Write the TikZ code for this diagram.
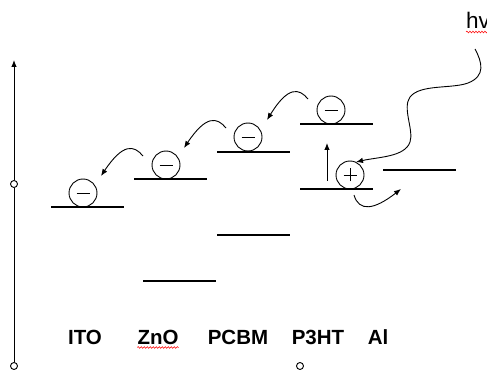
\documentclass[tikz,border=0pt]{standalone}
\usepackage{fontspec}
\setmainfont{Liberation Sans}
\usetikzlibrary{arrows.meta,decorations.pathmorphing}
\begin{document}
\begin{tikzpicture}[x=1pt,y=-1pt,
  level/.style={line width=2.9pt},
  carrier/.style={circle,draw,line width=0.9pt,minimum size=28pt,inner sep=0pt},
  thin/.style={line width=0.9pt},
  hop/.style={line width=0.9pt,-{Latex[length=7pt,width=5.5pt]}},
  material/.style={font=\fontsize{20.5}{24}\selectfont\bfseries,anchor=base,inner sep=0pt},
  terminal/.style={circle,draw,fill=white,line width=0.9pt,minimum size=7pt,inner sep=0pt},
  squiggle/.style={red,line width=0.5pt,decorate,decoration={snake,amplitude=0.9pt,segment length=3pt}}
]
\useasboundingbox (0,0) rectangle (487,371);

% energy axis
\node[terminal] (a0) at (14,366) {};
\node[terminal] (a1) at (14,184) {};
\node[terminal] (a2) at (300,366) {};
\coordinate (atop) at (14,60);
\draw[thin] (a0) -- (a1);
\draw[hop] (a1) -- (atop);

% energy levels
\draw[level] (51,207) -- (124,207);   % ITO
\draw[level] (134,179) -- (207,179);  % ZnO conduction band
\draw[level] (143,281) -- (216,281);  % ZnO valence band
\draw[level] (217,152) -- (290,152);  % PCBM LUMO
\draw[level] (217,235) -- (290,235);  % PCBM HOMO
\draw[level] (300,124) -- (373,124);  % P3HT LUMO
\draw[level] (300,189) -- (373,189);  % P3HT HOMO
\draw[level] (383,170) -- (456,170);  % Al

% charge carriers
\node[carrier] (e1) at (83,193) {};
\node[carrier] (e2) at (166,165) {};
\node[carrier] (e3) at (248,137) {};
\node[carrier] (e4) at (331,110) {};
\node[carrier] (h1) at (350,175) {};
\foreach \c in {e1,e2,e3,e4,h1}
  \draw[thin] ([xshift=-6.5pt]\c.center) -- ([xshift=6.5pt]\c.center);
\draw[thin] ([yshift=-6.5pt]h1.center) -- ([yshift=6.5pt]h1.center);

% electron transfer steps
\coordinate (s4) at (308,99);  \coordinate (t4) at (267,120);
\coordinate (s3) at (226,128); \coordinate (t3) at (184,148);
\coordinate (s2) at (143,156); \coordinate (t2) at (101,176);
\draw[hop] (s4) .. controls (299,88) and (288,86) .. (t4);
\draw[hop] (s3) .. controls (217,117) and (206,115) .. (t3);
\draw[hop] (s2) .. controls (134,145) and (123,143) .. (t2);

% excitation
\coordinate (v0) at (327,181);
\coordinate (v1) at (327,143);
\draw[hop] (v0) -- (v1);

% incoming photon
\coordinate (p0) at (475,49);
\coordinate (p1) at (356,162);
\draw[hop] (p0) .. controls (482,62) and (486,76) .. (468,83)
  .. controls (452,89) and (420,84) .. (410,97)
  .. controls (402,108) and (414,130) .. (410,142)
  .. controls (405,157) and (378,157) .. (p1);

% hole transfer to Al
\coordinate (q0) at (354,195);
\coordinate (q1) at (401,189);
\draw[hop] (q0) .. controls (359,212) and (374,210) .. (q1);

% labels
\node[material] (ito) at (85,344) {ITO};
\node[material] (zno) at (158,344) {ZnO};
\node[material] (pcbm) at (238,344) {PCBM};
\node[material] (p3ht) at (318,344) {P3HT};
\node[material] (al) at (378,344) {Al};
\node[font=\fontsize{22.5}{26}\selectfont,anchor=base west,inner sep=0pt] (hv) at (466,29) {hv};

% spelling marks
\draw[squiggle] ([yshift=-3pt]hv.base west) -- ([yshift=-3pt]hv.base east);
\draw[squiggle] ([yshift=-3.5pt]zno.base west) -- ([yshift=-3.5pt]zno.base east);
\end{tikzpicture}
\end{document}
